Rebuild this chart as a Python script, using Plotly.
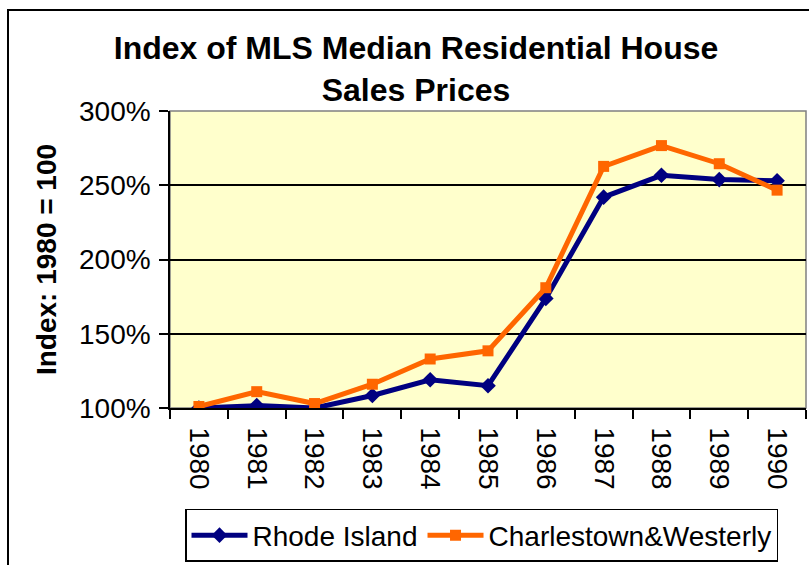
import plotly.graph_objects as go

years = ["1980", "1981", "1982", "1983", "1984", "1985", "1986", "1987", "1988", "1989", "1990"]
rhode_island = [100, 101.6, 100, 108.4, 119, 115, 173.8, 242, 256.7, 253.8, 253]
charlestown_westerly = [101, 111, 103, 116, 133, 138.5, 181, 262.7, 276.7, 264.5, 246.7]
y_ticks = [100, 150, 200, 250, 300]
y_tick_text = ["100%", "150%", "200%", "250%", "300%"]

W, H = 809, 565
L, R, T, B = 170, 3, 111, 151
pw, ph = W - L - R, H - T - B

font = "Liberation Sans, Arial, sans-serif"

fig = go.Figure()
fig.add_trace(go.Scatter(
    x=years, y=rhode_island, name="Rhode Island", mode="lines+markers",
    line=dict(color="#000080", width=5),
    marker=dict(symbol="diamond", size=12, color="#000080"),
))
fig.add_trace(go.Scatter(
    x=years, y=charlestown_westerly, name="Charlestown&Westerly", mode="lines+markers",
    line=dict(color="#FF6600", width=5),
    marker=dict(symbol="square", size=11, color="#FF6600"),
))

fig.update_layout(
    width=W, height=H,
    margin=dict(l=L, r=R, t=T, b=B),
    paper_bgcolor="white",
    plot_bgcolor="#FFFFCC",
    font=dict(family=font, color="black", size=28),
    title=dict(
        text="<b>Index of MLS Median Residential House<br>Sales Prices</b>",
        x=416 / W, xanchor="center", y=1 - 59 / H, yanchor="top",
        font=dict(size=32, family=font, color="black"),
    ),
    showlegend=True,
    legend=dict(
        orientation="h", x=(185 - L) / pw, xanchor="left",
        y=-(517 - T - ph) / ph, yanchor="top",
        bordercolor="black", borderwidth=1.5, bgcolor="white",
        font=dict(size=28, family=font, color="black"),
        tracegroupgap=0, itemwidth=56,
    ),
    xaxis=dict(
        type="category", tickson="boundaries", ticks="outside", ticklen=9,
        tickcolor="black", tickwidth=1.5, tickangle=90, ticklabelstandoff=12,
        showgrid=False, showline=True, linecolor="black", linewidth=1.5,
        mirror=False, tickfont=dict(size=28, family=font, color="black"),
        range=[-0.5, 10.5], automargin=False,
    ),
    yaxis=dict(
        range=[100, 300], tickvals=y_ticks, ticktext=y_tick_text,
        ticks="outside", ticklen=9, tickcolor="black", tickwidth=1.5,
        ticklabelstandoff=3,
        showgrid=True, gridcolor="black", gridwidth=1.5,
        showline=True, linecolor="black", linewidth=1.5,
        zeroline=False, tickfont=dict(size=28, family=font, color="black"),
        automargin=False,
        title=dict(text="<b>Index: 1980 = 100</b>", standoff=14,
                   font=dict(size=28, family=font, color="black")),
    ),
    shapes=[
        dict(type="rect", xref="paper", yref="paper",
             x0=0, x1=1, y0=0, y1=1, line=dict(color="#808080", width=1.5),
             layer="below"),
        dict(type="rect", xref="paper", yref="paper",
             x0=(8 - L) / pw, x1=1.2, y0=-0.7, y1=1 + (T - 8) / ph,
             line=dict(color="black", width=2)),
    ],
)

fig.write_html("out.html", config={"displayModeBar": False},
               post_script="document.body.style.margin='0px';")
